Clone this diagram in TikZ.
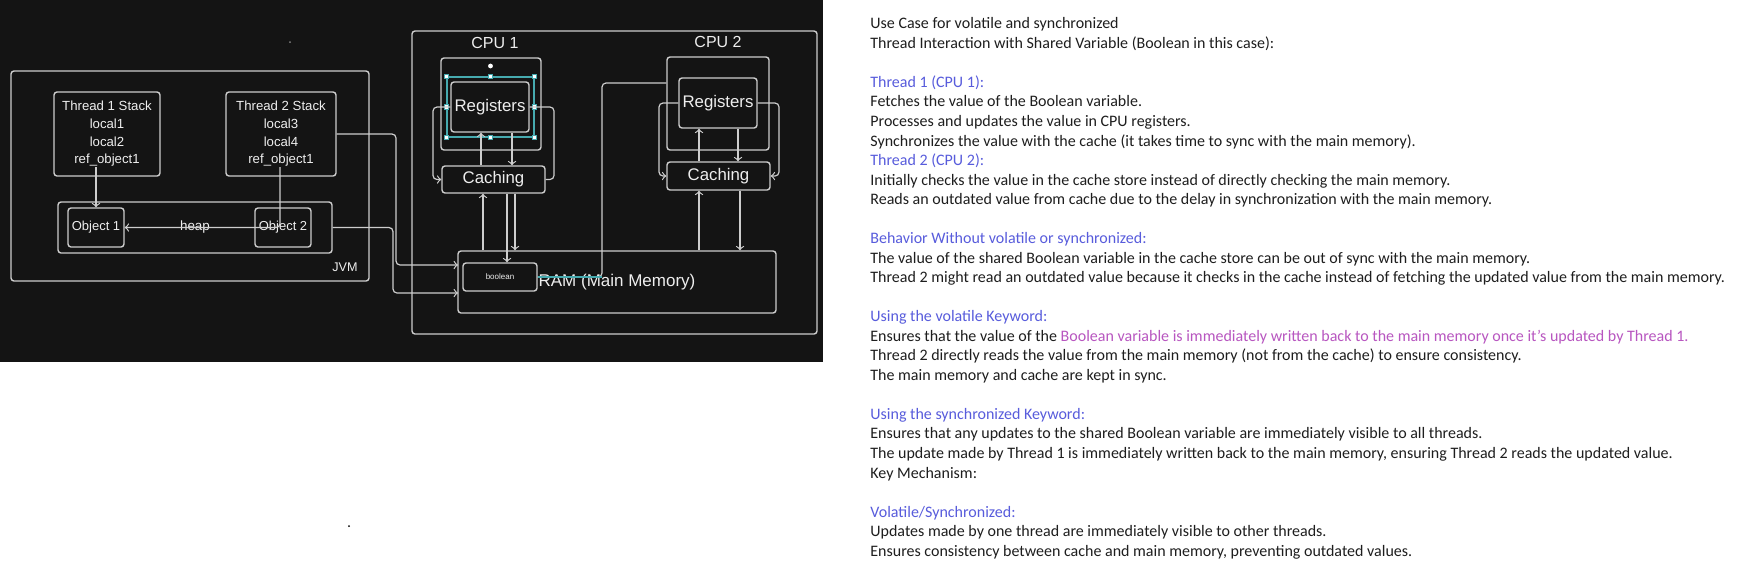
\documentclass[tikz,border=0pt]{standalone}
\usepackage{fontspec}
\setmainfont{Carlito}
\newfontfamily\diagfont{Liberation Sans}
\usetikzlibrary{positioning}

\definecolor{bgblack}{RGB}{20,20,20}
\definecolor{linegray}{RGB}{205,205,205}
\definecolor{labelwhite}{RGB}{238,238,238}
\definecolor{selteal}{RGB}{70,170,175}
\definecolor{headblue}{RGB}{88,92,220}
\definecolor{notepurple}{RGB}{184,86,192}
\definecolor{notetext}{RGB}{30,30,30}

\tikzset{
  unit/.style={draw=linegray, line width=0.7pt, rounded corners=1.5pt, text=labelwhite, inner sep=0pt},
  wire/.style={draw=linegray, line width=0.6pt, rounded corners=2pt},
  handle/.style={draw=selteal, fill=white, minimum size=2.2pt, inner sep=0pt},
  tag/.style={text=labelwhite, inner sep=0pt},
  note/.style={anchor=base west, inner sep=0pt, text=notetext, font=\fontsize{8}{9.77}\selectfont},
  notehead/.style={note, text=headblue}
}

\begin{document}
\begin{tikzpicture}[x=0.5pt, y=-0.5pt]
    \fill[white] (0,0) rectangle (1748,569);
    \useasboundingbox (0,0) rectangle (1748,569);
    \fill[bgblack] (0,0) rectangle (823,362);
    \fill[linegray!60!bgblack] (290,42) circle (0.5pt);
    \fill[black] (349,526) circle (0.5pt);

    % JVM side
    \node[unit, minimum width=179pt, minimum height=105pt] (jvm) at (190,176) {};
    \node[tag, font=\diagfont\fontsize{6.3}{7}\selectfont] (jvmlabel) at (345,267) {JVM};
    \node[unit, minimum width=53pt, minimum height=42pt, align=center, font=\diagfont\fontsize{6.6}{8.85}\selectfont] (t1) at (107,134) {Thread 1 Stack\\local1\\local2\\ref\_object1};
    \node[unit, minimum width=55pt, minimum height=42pt, align=center, font=\diagfont\fontsize{6.6}{8.85}\selectfont] (t2) at (281,134) {Thread 2 Stack\\local3\\local4\\ref\_object1};
    \node[unit, minimum width=137pt, minimum height=25.5pt, font=\diagfont\fontsize{6.7}{8}\selectfont] (heap) at (195,227.5) {heap};
    \node[unit, minimum width=28pt, minimum height=19.5pt, font=\diagfont\fontsize{6.5}{8}\selectfont] (obj1) at (96,227.5) {Object 1};
    \node[unit, minimum width=28pt, minimum height=19.5pt, font=\diagfont\fontsize{6.5}{8}\selectfont] (obj2) at (283,227.5) {Object 2};
    \coordinate (t1ref) at (96,167);
    \coordinate (t2ref) at (280,167);

    % CPU side
    \node[unit, minimum width=202.5pt, minimum height=151.5pt] (sys) at (614.5,182.5) {};
    \node[tag, font=\diagfont\fontsize{8}{9}\selectfont] (cpu1label) at (495,43) {CPU 1};
    \node[tag, font=\diagfont\fontsize{8}{9}\selectfont] (cpu2label) at (718,42) {CPU 2};
    \node[unit, minimum width=50pt, minimum height=46pt] (cpu1) at (491,104) {};
    \node[unit, minimum width=51pt, minimum height=46.5pt] (cpu2) at (718,103.5) {};
    \node[unit, minimum width=39pt, minimum height=25pt, font=\diagfont\fontsize{8.4}{9}\selectfont] (reg1) at (490,107) {Registers};
    \node[unit, minimum width=39pt, minimum height=25pt, font=\diagfont\fontsize{8.4}{9}\selectfont] (reg2) at (718,103) {Registers};
    \node[unit, minimum width=51.5pt, minimum height=13.5pt, font=\diagfont\fontsize{8.4}{9}\selectfont] (cache1) at (493.5,179.5) {Caching};
    \node[unit, minimum width=51.5pt, minimum height=14pt, font=\diagfont\fontsize{8.4}{9}\selectfont] (cache2) at (718.5,176) {Caching};
    \node[unit, minimum width=159pt, minimum height=31pt, font=\diagfont\fontsize{8.5}{9}\selectfont] (ram) at (617,282) {RAM (Main Memory)};
    \node[unit, minimum width=37pt, minimum height=14pt, font=\diagfont\fontsize{4}{5}\selectfont] (bool) at (500,277) {boolean};
    \coordinate (ramin1) at (458,265);
    \coordinate (ramin2) at (458,293);

    % selection frame round Registers of CPU 1
    \node[draw=selteal, line width=0.6pt, minimum width=43.5pt, minimum height=30pt, inner sep=0pt] (sel) at (490.5,107) {};
    \node[handle] (hnw) at (sel.north west) {};
    \node[handle] (hn) at (sel.north) {};
    \node[handle] (hne) at (sel.north east) {};
    \node[handle] (hw) at (sel.west) {};
    \node[handle] (he) at (sel.east) {};
    \node[handle] (hsw) at (sel.south west) {};
    \node[handle] (hs) at (sel.south) {};
    \node[handle] (hse) at (sel.south east) {};
    \fill[white] (490.5,66) circle (1.2pt);

    \draw[wire, ->] (t1ref) -- (obj1.north);
    \draw[wire, ->] (t2ref) |- (obj1.east);
    \draw[wire, ->] (t2.east) -| (396,265) -- (ramin1);
    \draw[wire, ->] (heap.east) -| (393,293) -- (ramin2);

    \draw[wire, ->] (cache1.north -| 481,0) -- (reg1.south -| 481,0);
    \draw[wire, ->] (reg1.south -| 512,0) -- (cache1.north -| 512,0);
    \draw[wire, ->] (reg1.west) -- (433,107) |- (cache1.west);
    \draw[wire] (reg1.east) -- (554,107) |- (cache1.east);
    \draw[wire, ->] (ram.north -| 483,0) -- (cache1.south -| 483,0);
    \draw[wire, ->] (cache1.south -| 507,0) -- (bool.north -| 507,0);
    \draw[wire, ->] (cache1.south -| 515,0) -- (ram.north -| 515,0);

    \draw[wire, ->] (cache2.north -| 699,0) -- (reg2.south -| 699,0);
    \draw[wire, ->] (reg2.south -| 738,0) -- (cache2.north -| 738,0);
    \draw[wire, ->] (reg2.west) -- (659,103) |- (cache2.west);
    \draw[wire, ->] (reg2.east) -- (779,103) |- (cache2.east);
    \draw[wire, ->] (ram.north -| 699,0) -- (cache2.south -| 699,0);
    \draw[wire, ->] (cache2.south -| 740,0) -- (ram.north -| 740,0);

    \draw[wire] (cpu2.west |- 0,83) -- (602,83) |- (bool.east);
    \draw[selteal, line width=0.6pt] (602,277) -- (bool.east);

    % notes
    \node[note] (n0) at (870,28.8) {Use Case for volatile and synchronized};
    \node[note] (n1) at (870,48.3) {Thread Interaction with Shared Variable (Boolean in this case):};
    \node[notehead] (n3) at (870,87.4) {Thread 1 (CPU 1):};
    \node[note] (n4) at (870,106.9) {Fetches the value of the Boolean variable.};
    \node[note] (n5) at (870,126.5) {Processes and updates the value in CPU registers.};
    \node[note] (n6) at (870,146.0) {Synchronizes the value with the cache (it takes time to sync with the main memory).};
    \node[notehead] (n7) at (870,165.5) {Thread 2 (CPU 2):};
    \node[note] (n8) at (870,185.0) {Initially checks the value in the cache store instead of directly checking the main memory.};
    \node[note] (n9) at (870,204.6) {Reads an outdated value from cache due to the delay in synchronization with the main memory.};
    \node[notehead] (n11) at (870,243.6) {Behavior Without volatile or synchronized:};
    \node[note] (n12) at (870,263.2) {The value of the shared Boolean variable in the cache store can be out of sync with the main memory.};
    \node[note] (n13) at (870,282.7) {Thread 2 might read an outdated value because it checks in the cache instead of fetching the updated value from the main memory.};
    \node[notehead] (n15) at (870,321.8) {Using the volatile Keyword:};
    \node[note] (n16) at (870,341.3) {Ensures that the value of the {\color{notepurple}Boolean variable is immediately written back to the main memory once it’s updated by Thread 1.}};
    \node[note] (n17) at (870,360.8) {Thread 2 directly reads the value from the main memory (not from the cache) to ensure consistency.};
    \node[note] (n18) at (870,380.3) {The main memory and cache are kept in sync.};
    \node[notehead] (n20) at (870,419.4) {Using the synchronized Keyword:};
    \node[note] (n21) at (870,438.9) {Ensures that any updates to the shared Boolean variable are immediately visible to all threads.};
    \node[note] (n22) at (870,458.5) {The update made by Thread 1 is immediately written back to the main memory, ensuring Thread 2 reads the updated value.};
    \node[note] (n23) at (870,478.0) {Key Mechanism:};
    \node[notehead] (n25) at (870,517.1) {Volatile/Synchronized:};
    \node[note] (n26) at (870,536.6) {Updates made by one thread are immediately visible to other threads.};
    \node[note] (n27) at (870,556.1) {Ensures consistency between cache and main memory, preventing outdated values.};
\end{tikzpicture}
\end{document}
